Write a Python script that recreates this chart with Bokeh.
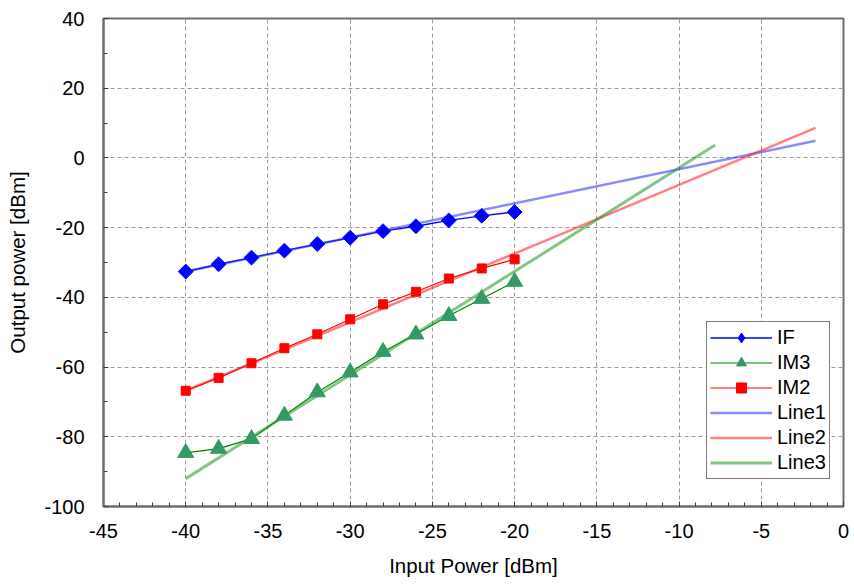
import math
from bokeh.plotting import figure
from bokeh.models import Range1d, FixedTicker, Legend, LegendItem, CustomJSTickFormatter
from bokeh.embed import file_html
from bokeh.resources import INLINE

# ---- data ----
input_power = [-40, -38, -36, -34, -32, -30, -28, -26, -24, -22, -20]
if_out = [-32.6, -30.5, -28.6, -26.6, -24.7, -22.9, -21.0, -19.6, -17.9, -16.6, -15.5]
im3_out = [-84.6, -83.4, -80.6, -73.9, -67.2, -61.5, -55.6, -50.6, -45.3, -40.4, -35.5]
im2_out = [-66.8, -63.1, -58.9, -54.6, -50.6, -46.3, -42.0, -38.4, -34.6, -31.7, -29.1]

line1_x = [-40, -1.7]
line1_y = [-32.6, 4.9]
line2_x = [-40, -1.7]
line2_y = [-66.8, 8.6]
line3_x = [-40, -7.8]
line3_y = [-92.0, 3.7]

x_ticks = [-45, -40, -35, -30, -25, -20, -15, -10, -5, 0]
y_ticks = [-100, -80, -60, -40, -20, 0, 20, 40]

FONT = "Liberation Sans"

p = figure(width=854, height=585, output_backend="svg", toolbar_location=None,
           x_range=Range1d(-45, 0), y_range=Range1d(-100, 40),
           min_border_left=103, min_border_right=11, min_border_top=18, min_border_bottom=79)
p.background_fill_color = "white"
p.border_fill_color = "white"
p.outline_line_color = "#6e6e6e"
p.outline_line_width = 2

# axes
p.xaxis.ticker = FixedTicker(ticks=x_ticks, minor_ticks=list(range(-45, 1)))
p.yaxis.ticker = FixedTicker(ticks=y_ticks, minor_ticks=list(range(-100, 41, 10)))
fmt = CustomJSTickFormatter(code="return tick.toString();")
for ax in (p.xaxis, p.yaxis):
    ax.formatter = fmt
    ax.axis_line_color = "#6e6e6e"
    ax.axis_line_width = 2
    ax.major_tick_in = 5
    ax.major_tick_out = 0
    ax.minor_tick_in = 4
    ax.minor_tick_out = 0
    ax.major_tick_line_color = "#404040"
    ax.minor_tick_line_color = "#404040"
    ax.major_label_text_font = FONT
    ax.major_label_text_font_size = "20px"
    ax.major_label_text_color = "black"
    ax.axis_label_text_font = FONT
    ax.axis_label_text_font_size = "20.5px"
    ax.axis_label_text_font_style = "normal"
    ax.axis_label_text_color = "black"
p.xaxis.axis_label = "Input Power [dBm]"
p.yaxis.axis_label = "Output power [dBm]"
p.xaxis.major_label_standoff = 17
p.yaxis.major_label_standoff = 19
p.xaxis.axis_label_standoff = 13
p.yaxis.axis_label_standoff = 12

p.xgrid.ticker = FixedTicker(ticks=x_ticks)
p.ygrid.ticker = FixedTicker(ticks=y_ticks)
for g in (p.xgrid, p.ygrid):
    g.grid_line_color = "#9a9a9a"
    g.grid_line_dash = "4 3"
    g.grid_line_width = 1

# series connection lines
if_line = p.line(input_power, if_out, line_color="#0000ff", line_width=1.3)
im3_line = p.line(input_power, im3_out, line_color="#008000", line_width=1.2)
im2_line = p.line(input_power, im2_out, line_color="#ff0000", line_width=1.2)

# fit lines
l1 = p.line(line1_x, line1_y, line_color="#2a2aff", line_width=2.5, line_alpha=0.55)
l2 = p.line(line2_x, line2_y, line_color="#ff1a1a", line_width=2.5, line_alpha=0.55)
l3 = p.line(line3_x, line3_y, line_color="#1f951f", line_width=3, line_alpha=0.55)

# legend swatch for IF (diamond), placed under the first IF marker so it stays hidden
if_proxy = p.scatter(input_power[:1], if_out[:1], marker="diamond", size=10,
                     fill_color="#0000ff", line_color="#0000ff")

# markers
if_m = p.scatter(input_power, if_out, marker="square", angle=math.pi / 4, size=10.5,
                 fill_color="#0000ff", line_color="#0000ff")
im3_m = p.scatter(input_power, im3_out, marker="triangle", size=16,
                  fill_color="#339966", line_color="#339966")
im2_m = p.scatter(input_power, im2_out, marker="square", size=9,
                  fill_color="#ff0000", line_color="#ff0000")

legend = Legend(items=[
    LegendItem(label="IF", renderers=[if_line, if_proxy]),
    LegendItem(label="IM3", renderers=[im3_line, im3_m]),
    LegendItem(label="IM2", renderers=[im2_line, im2_m]),
    LegendItem(label="Line1", renderers=[l1]),
    LegendItem(label="Line2", renderers=[l2]),
    LegendItem(label="Line3", renderers=[l3]),
], location=(603, 27))
legend.label_text_font = FONT
legend.label_text_font_size = "20px"
legend.label_text_color = "black"
legend.glyph_width = 62
legend.glyph_height = 25
legend.label_height = 25
legend.label_standoff = 5
legend.padding = 3
legend.spacing = 0
legend.margin = 0
legend.border_line_color = "black"
legend.border_line_width = 1
legend.background_fill_color = "white"
legend.background_fill_alpha = 1
p.add_layout(legend)

open("out.html", "w").write(file_html(p, INLINE))
